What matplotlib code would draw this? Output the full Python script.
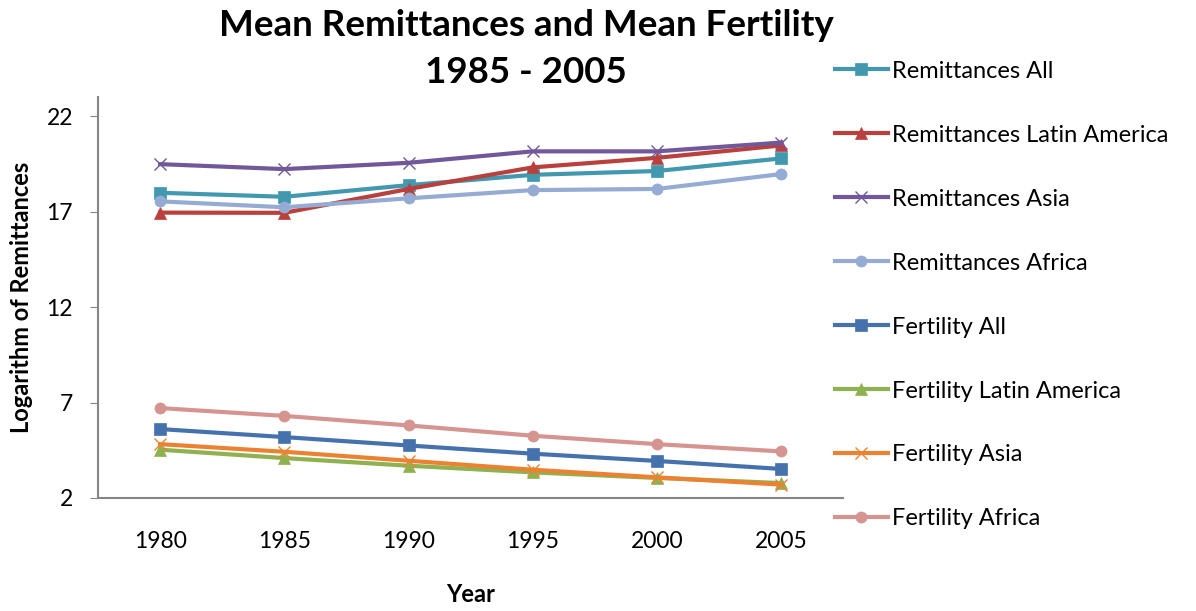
import matplotlib.pyplot as plt

plt.rcParams['font.family'] = ['Lato', 'DejaVu Sans']

years = ['1980', '1985', '1990', '1995', '2000', '2005']

rem_all = [17.99, 17.78, 18.39, 18.93, 19.13, 19.79]
rem_latam = [16.95, 16.94, 18.19, 19.32, 19.82, 20.47]
rem_asia = [19.49, 19.23, 19.56, 20.16, 20.16, 20.62]
rem_africa = [17.54, 17.23, 17.70, 18.13, 18.19, 18.97]
fert_all = [5.61, 5.19, 4.75, 4.32, 3.94, 3.52]
fert_latam = [4.53, 4.09, 3.69, 3.34, 3.05, 2.78]
fert_asia = [4.82, 4.42, 3.95, 3.48, 3.08, 2.70]
fert_africa = [6.71, 6.30, 5.80, 5.26, 4.82, 4.44]

series = [
    ("Remittances All", rem_all, '#4198AF', 's'),
    ("Remittances Latin America", rem_latam, '#B9403D', '^'),
    ("Remittances Asia", rem_asia, '#71589A', 'x'),
    ("Remittances Africa", rem_africa, '#95ABD3', 'o'),
    ("Fertility All", fert_all, '#4572AD', 's'),
    ("Fertility Latin America", fert_latam, '#8FB150', '^'),
    ("Fertility Asia", fert_asia, '#EB8232', 'x'),
    ("Fertility Africa", fert_africa, '#D69491', 'o'),
]

fig = plt.figure(figsize=(11.96, 6.11), dpi=100)
ax = fig.add_axes([0.082, 0.185, 0.623, 0.656])

x = list(range(len(years)))
for label, vals, color, marker in series:
    ax.plot(x, vals, color=color, lw=3.0, marker=marker, markersize=8,
            markeredgewidth=1 if marker == 'x' else 0.5,
            markeredgecolor=color, label=label)

ax.set_xlim(-0.5, 5.5)
ax.set_ylim(2, 23)
ax.set_yticks([2, 7, 12, 17, 22])
ax.set_xticks(x)
ax.set_xticklabels(years)
ax.tick_params(axis='x', length=0, labelsize=16.5, pad=24)
ax.tick_params(axis='y', length=6, color='#868686', labelsize=16.5, direction='out', pad=12)
for side in ['top', 'right']:
    ax.spines[side].set_visible(False)
for side in ['left', 'bottom']:
    ax.spines[side].set_color('#868686')
    ax.spines[side].set_linewidth(1.5)

ax.set_ylabel("Logarithm of Remittances", fontsize=17, fontweight='bold', labelpad=10)
ax.set_xlabel("Year", fontsize=17, fontweight='bold', labelpad=22)

fig.text(0.44, 0.958, "Mean Remittances and Mean Fertility", ha='center', va='center',
         fontsize=26.5, fontweight='bold')
fig.text(0.44, 0.882, "1985 - 2005", ha='center', va='center',
         fontsize=26.5, fontweight='bold')

fig.legend(loc='upper left', bbox_to_anchor=(0.680, 0.9355), frameon=False,
           fontsize=17, labelspacing=1.82, handlelength=2.25, handletextpad=0.2)

fig.savefig('out.png', dpi=100)
